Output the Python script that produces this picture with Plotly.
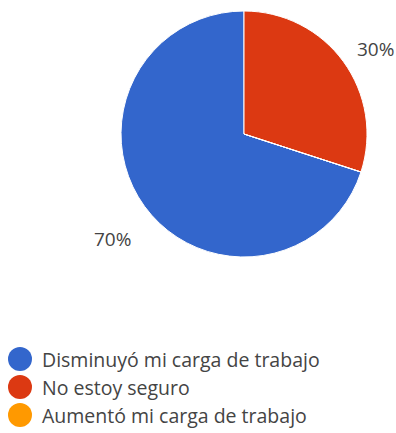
import math
import plotly.graph_objects as go

# Survey answers and their shares
categories = ["Disminuyó mi carga de trabajo", "No estoy seguro", "Aumentó mi carga de trabajo"]
shares = [70, 30, 0]
colors = ["#3366CC", "#DC3912", "#FF9900"]

W, H = 396, 433
text_color = "#444444"
font_family = "Open Sans, Roboto, sans-serif"

# Pie geometry (pixels)
cx, cy, R = 244, 134, 123
dom_x = [(cx - R) / W, (cx + R) / W]
dom_y = [1 - (cy + R) / H, 1 - (cy - R) / H]

total = sum(shares)
# Slices run clockwise; start the first one so that it ends at 12 o'clock
rotation = 360.0 - 360.0 * shares[0] / total

fig = go.Figure(
    go.Pie(
        labels=categories,
        values=shares,
        marker=dict(colors=colors, line=dict(color="white", width=1)),
        sort=False,
        direction="clockwise",
        rotation=rotation,
        textinfo="none",
        hoverinfo="label+percent",
        showlegend=False,
        domain=dict(x=dom_x, y=dom_y),
    )
)

# Percentage labels placed outside each slice, along the slice's mid-angle
start = rotation
annotations = []
for name, v in zip(categories, shares):
    if v <= 0:
        continue
    span = 360.0 * v / total
    mid = start + span / 2
    start += span
    theta = math.radians(mid)
    r = 1.32 * R
    px = cx + r * math.sin(theta)
    py = cy - r * math.cos(theta)
    annotations.append(dict(
        x=px / W, y=1 - py / H, xref="paper", yref="paper",
        text=f"{v / total * 100:.0f}%", showarrow=False,
        xanchor="center", yanchor="middle", yshift=-10,
        font=dict(size=19, color=text_color, family=font_family),
    ))

# Legend with round swatches below the pie
shapes = []
row0, row_gap = 359, 28
for i, (name, col) in enumerate(zip(categories, colors)):
    yy = 1 - (row0 + i * row_gap) / H
    shapes.append(dict(
        type="circle", xref="paper", yref="paper",
        xsizemode="pixel", ysizemode="pixel",
        xanchor=20 / W, yanchor=yy,
        x0=-12, x1=12, y0=-12, y1=12,
        fillcolor=col, line=dict(width=0),
    ))
    annotations.append(dict(
        x=40 / W, y=yy, xref="paper", yref="paper",
        text=name, showarrow=False, xanchor="left", yanchor="middle",
        font=dict(size=19.5, color=text_color, family=font_family),
    ))

fig.update_layout(
    width=W, height=H,
    margin=dict(l=0, r=0, t=0, b=0),
    paper_bgcolor="white", plot_bgcolor="white",
    annotations=annotations, shapes=shapes,
)

fig.write_html("out.html")
